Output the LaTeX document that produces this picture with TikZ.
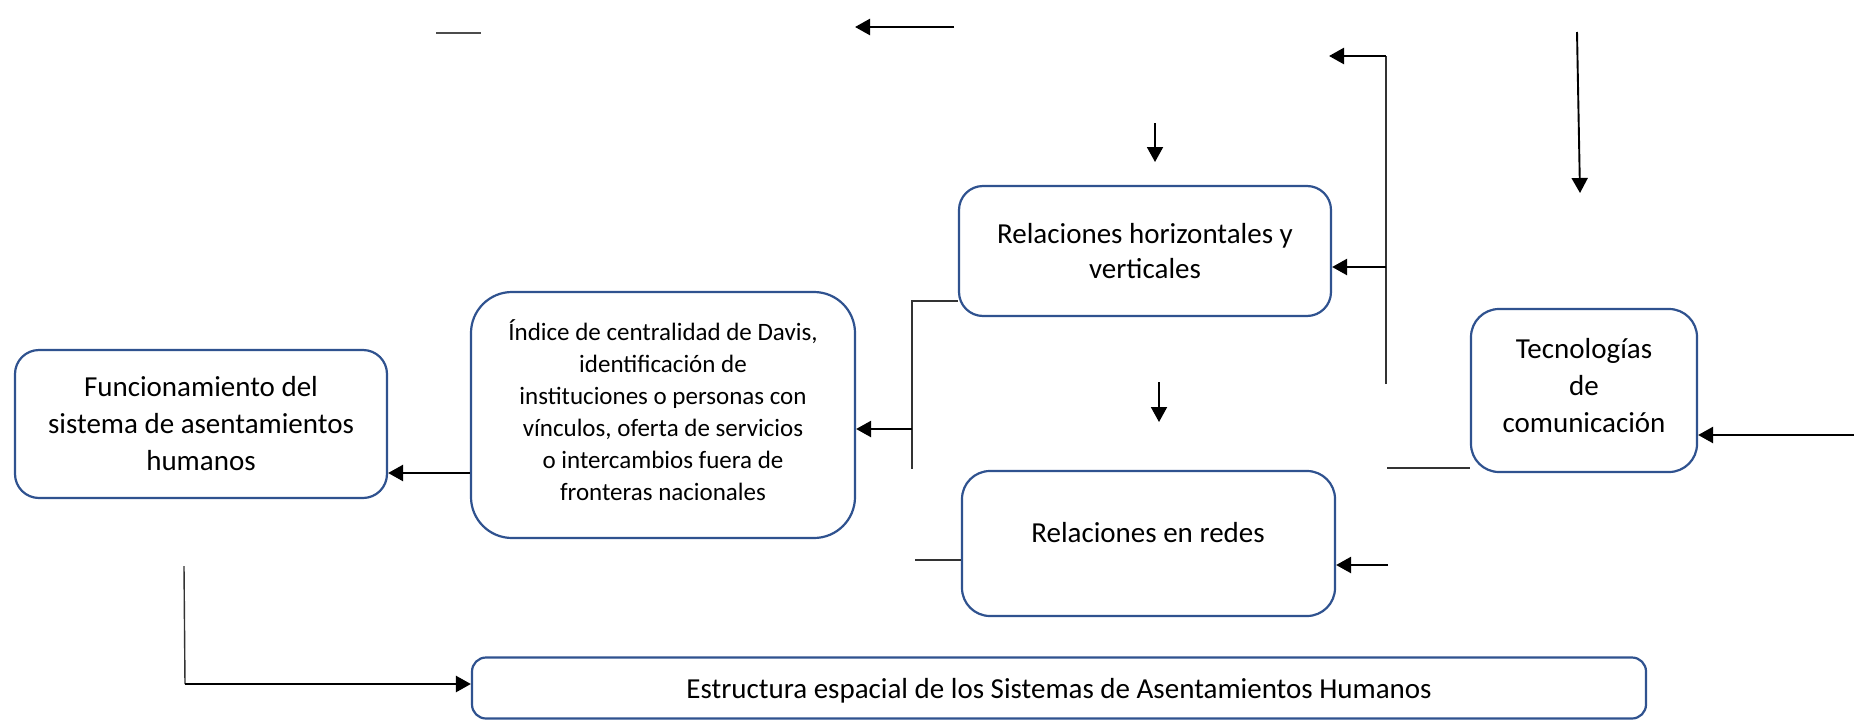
\documentclass[tikz,border=0pt]{standalone}
\usepackage{fontspec}
\setmainfont{Carlito}
\usetikzlibrary{arrows.meta,calc}
\definecolor{boxblue}{HTML}{2F528F}
\tikzset{
  box/.style={draw=boxblue, line width=2.2pt, align=center, inner sep=0pt, fill=white},
  txt/.style={align=center, inner sep=0pt},
  big/.style={font=\fontsize{29pt}{37pt}\selectfont},
  small/.style={font=\fontsize{25pt}{32pt}\selectfont},
  arr/.style={draw=black, line width=2.5pt, -{Triangle[length=15pt,width=16pt]}},
  thinline/.style={draw=black!80, line width=1.2pt},
}
\begin{document}
\begin{tikzpicture}[x=1pt,y=-1pt]
\useasboundingbox (0,0) rectangle (1854,720);
% boxes
\node[box,big,rounded corners=24pt,minimum width=372pt,minimum height=148pt] (func) at (201,424)
  {Funcionamiento del\\sistema de asentamientos\\humanos};
\node[box,rounded corners=41pt,minimum width=384pt,minimum height=246pt] (indice) at (663,415) {};
\node[txt,small] (indicetxt) at ($(indice.center)+(0,-5)$)
  {Índice de centralidad de Davis,\\identificación de\\instituciones o personas con\\vínculos, oferta de servicios\\o intercambios fuera de\\fronteras nacionales};
\node[box,big,font=\fontsize{29pt}{35pt}\selectfont,rounded corners=24pt,minimum width=372pt,minimum height=130pt] (rh) at (1145,251)
  {Relaciones horizontales y\\verticales};
\node[box,rounded corners=28pt,minimum width=373pt,minimum height=145pt] (redes) at (1148.5,543.5) {};
\node[txt,big] (redestxt) at (1148,533) {Relaciones en redes};
\node[box,rounded corners=28pt,minimum width=226pt,minimum height=163pt] (tec) at (1584,390.5) {};
\node[txt,big] (tectxt) at ($(tec.center)+(0,-5)$) {Tecnologías\\de\\comunicación};
\node[box,rounded corners=14pt,minimum width=1174pt,minimum height=61pt] (est) at (1059,688) {};
\node[txt,big] (esttxt) at ($(est.center)+(0,3)$)
  {Estructura espacial de los Sistemas de Asentamientos Humanos};
% coordinates
\coordinate (c1) at (0,473);
\coordinate (bT) at (912,301);
\coordinate (bB) at (912,469);
\coordinate (bM) at (912,429);
\coordinate (s1) at (915,560);
\coordinate (d1s) at (1155,123);
\coordinate (d1e) at (1155,162);
\coordinate (d2s) at (1159,382);
\coordinate (d2e) at (1159,422);
\coordinate (rT) at (1386,56);
\coordinate (rB) at (1386,384);
\coordinate (rTe) at (1329,56);
\coordinate (rM) at (1386,267);
\coordinate (rR) at (1388,565);
\coordinate (rL) at (1387,468);
\coordinate (tR) at (1854,435);
\coordinate (ls) at (1577,32);
\coordinate (le) at (1580,193);
\coordinate (tl1) at (436,33);
\coordinate (tl2) at (481,33);
\coordinate (ta1) at (954,27);
\coordinate (ta2) at (855,27);
\coordinate (bl1) at (184,566);
\coordinate (bl2) at (185,684);
% connectors
\draw[arr] (indice.west |- c1) -- (func.east |- c1);
\draw[thinline] (rh.west |- bT) -- (bT) -- (bB);
\draw[arr] (bM) -- (indice.east |- bM);
\draw[thinline] (redes.west |- s1) -- (s1);
\draw[arr,line width=1.9pt] (d1s) -- (d1e);
\draw[arr,line width=1.9pt] (d2s) -- (d2e);
\draw[thinline] (rB) -- (rT);
\draw[arr] (rT) -- (rTe);
\draw[arr] (rM) -- (rh.east |- rM);
\draw[arr] (rR) -- (redes.east |- rR);
\draw[thinline] (rL) -- (tec.west |- rL);
\draw[arr] (tR) -- (tec.east |- tR);
\draw[arr,line width=1.9pt] (ls) -- (le);
\draw[thinline,draw=black!70] (tl1) -- (tl2);
\draw[arr] (ta1) -- (ta2);
\draw[thinline,line width=1.4pt] (bl1) -- (bl2);
\draw[arr] (bl2) -- (est.west |- bl2);
\end{tikzpicture}
\end{document}
